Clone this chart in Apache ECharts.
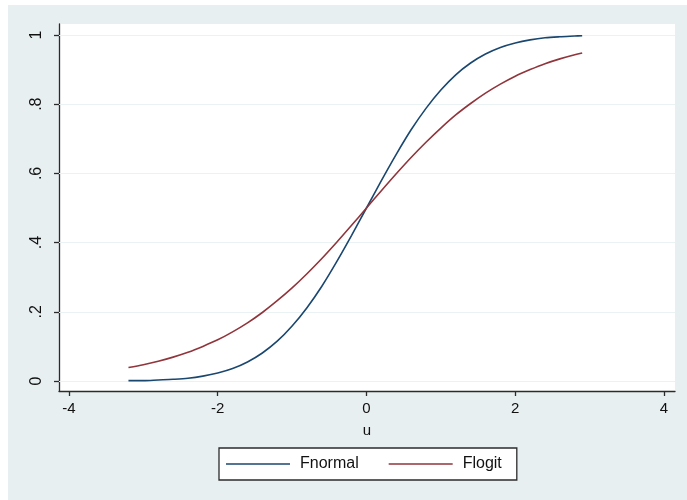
<!DOCTYPE html>
<html>
<head>
<meta charset="utf-8">
<script src="https://cdn.jsdelivr.net/npm/echarts@6/dist/echarts.min.js"></script>
<style>
  html, body { margin: 0; padding: 0; background: #fff; }
  #chart { width: 687px; height: 500px; }
</style>
</head>
<body>
<div id="chart"></div>
<script>
// u values (x)
const uValues = [-3.2, -3.0, -2.8, -2.6, -2.4, -2.2, -2.0, -1.8, -1.6, -1.4, -1.2, -1.0, -0.8, -0.6, -0.4, -0.2,
  0, 0.2, 0.4, 0.6, 0.8, 1.0, 1.2, 1.4, 1.6, 1.8, 2.0, 2.2, 2.4, 2.6, 2.8, 2.9];
// Fnormal
const fnormal = [0.001, 0.001, 0.003, 0.005, 0.008, 0.014, 0.023, 0.036, 0.055, 0.081, 0.115, 0.159, 0.212, 0.274, 0.345, 0.421,
  0.5, 0.579, 0.655, 0.726, 0.788, 0.841, 0.885, 0.919, 0.945, 0.964, 0.977, 0.986, 0.992, 0.995, 0.997, 0.998];
// Flogit
const flogit = [0.039, 0.047, 0.057, 0.069, 0.083, 0.100, 0.119, 0.142, 0.168, 0.198, 0.232, 0.269, 0.310, 0.354, 0.401, 0.450,
  0.5, 0.550, 0.599, 0.646, 0.690, 0.731, 0.769, 0.802, 0.832, 0.858, 0.881, 0.900, 0.917, 0.931, 0.943, 0.948];
const xTicks = [-4, -2, 0, 2, 4];
const yTicks = [0, 0.2, 0.4, 0.6, 0.8, 1];

const pairs = (ys) => uValues.map((u, i) => [u, ys[i]]);
const yLabel = (v) => (v === 0 || v === 1) ? String(v) : String(v).replace(/^0/, '');

const font = 'Liberation Sans, Arial, sans-serif';
const axisCol = '#2b2b2b';

let myChart = echarts.init(document.getElementById('chart'), null, { renderer: 'canvas' });
myChart.setOption({
  animation: false,
  backgroundColor: '#fff',
  graphic: [{
    type: 'rect', z: -10, silent: true,
    shape: { x: 8, y: 5, width: 679, height: 495 },
    style: { fill: '#e8eff1' }
  }],
  grid: {
    left: 59, right: 12, top: 24, bottom: 109,
    show: true, backgroundColor: '#fff', borderWidth: 0
  },
  legend: {
    left: 219, top: 448,
    padding: [8, 15, 8, 7],
    borderColor: axisCol, borderWidth: 1.3,
    backgroundColor: '#fff',
    icon: 'rect', itemWidth: 64, itemHeight: 1.6,
    itemGap: 30,
    textStyle: { fontFamily: font, fontSize: 16, color: '#111', padding: [0, 0, 0, 5] },
    data: ['Fnormal', 'Flogit']
  },
  xAxis: {
    type: 'value',
    min: -4.134, max: 4.148,
    name: 'u', nameLocation: 'middle', nameGap: 32,
    nameTextStyle: { fontFamily: font, fontSize: 15, color: '#111' },
    axisLine: { show: true, onZero: false, lineStyle: { color: axisCol, width: 1.3 } },
    axisTick: { show: true, length: 5, customValues: xTicks, lineStyle: { color: axisCol, width: 1.3 } },
    axisLabel: { customValues: xTicks, margin: 10, fontFamily: font, fontSize: 15, color: '#111' },
    splitLine: { show: false }
  },
  yAxis: {
    type: 'value',
    min: -0.0289, max: 1.0318,
    axisLine: { show: true, onZero: false, lineStyle: { color: axisCol, width: 1.3 } },
    axisTick: { show: true, length: 5, customValues: yTicks, lineStyle: { color: axisCol, width: 1.3 } },
    axisLabel: {
      customValues: yTicks, rotate: 90, margin: 14,
      fontFamily: font, fontSize: 16, color: '#111',
      formatter: yLabel
    },
    splitLine: { show: false }
  },
  series: [
    {
      name: 'Fnormal', type: 'line', data: pairs(fnormal),
      symbol: 'none', smooth: 0.3,
      lineStyle: { color: '#1a476f', width: 1.6 },
      itemStyle: { color: '#1a476f' },
      markLine: {
        silent: true, symbol: 'none', label: { show: false }, z: 1,
        lineStyle: { color: '#eaf2f3', width: 1.2, type: 'solid' },
        data: yTicks.map((v) => ({ yAxis: v }))
      },
      z: 3
    },
    {
      name: 'Flogit', type: 'line', data: pairs(flogit),
      symbol: 'none', smooth: 0.3,
      lineStyle: { color: '#90353b', width: 1.6 },
      itemStyle: { color: '#90353b' },
      z: 3
    }
  ]
});
</script>
</body>
</html>
